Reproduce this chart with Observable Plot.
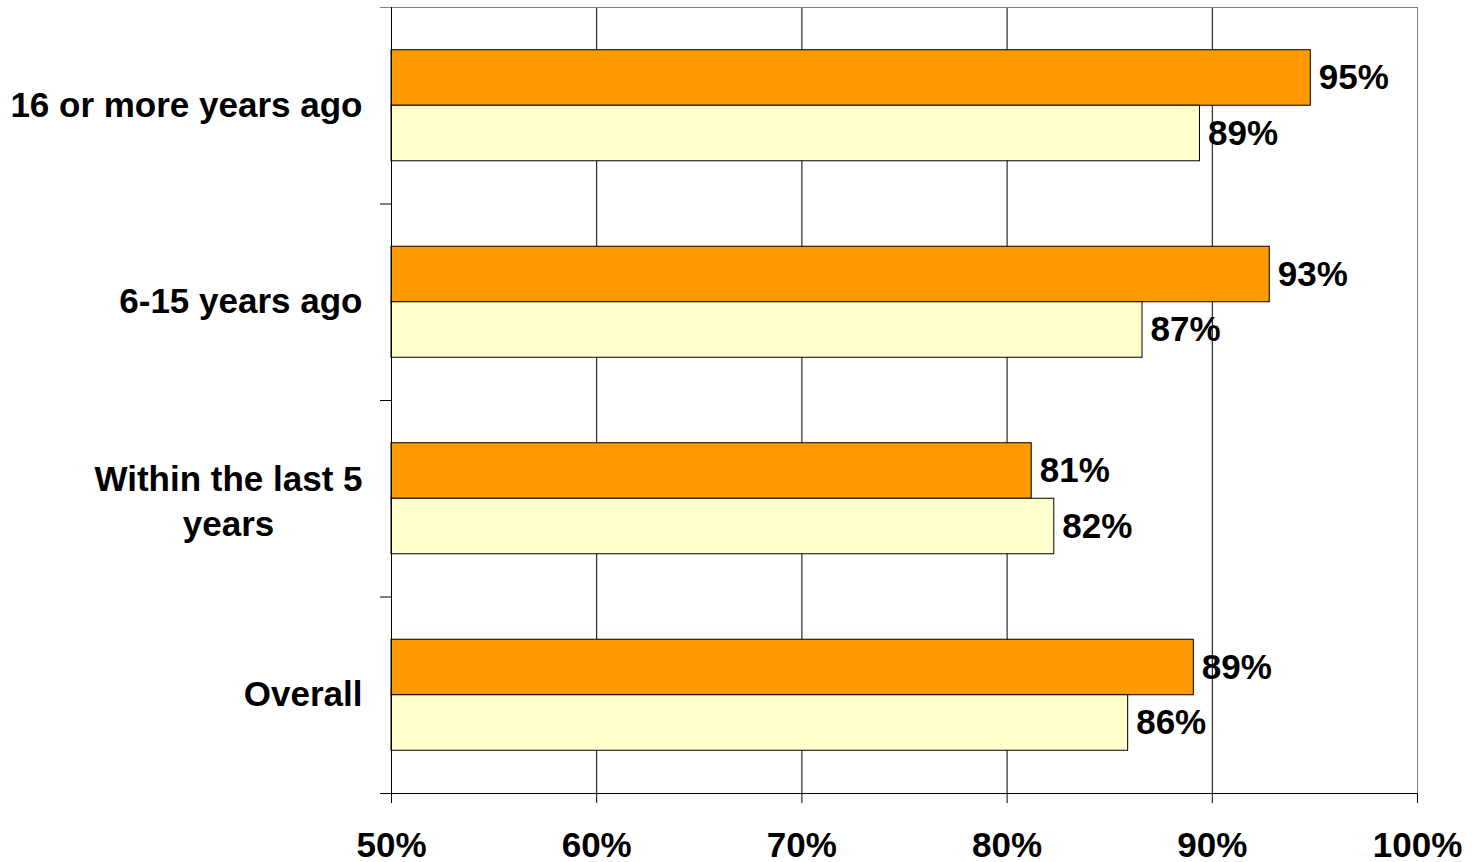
<!DOCTYPE html>
<html><head><meta charset="utf-8">
<script src="https://cdn.jsdelivr.net/npm/d3@7"></script>
<script src="https://cdn.jsdelivr.net/npm/@observablehq/plot@0.6"></script>
<style>body{margin:0;background:#fff}</style>
</head><body><div id="chart"></div>
<script>
const categories = ["16 or more years ago", "6-15 years ago", "Within the last 5\nyears", "Overall"];
const seriesNames = ["Series 1", "Series 2"];
const series1 = [94.8, 92.8, 81.2, 89.1];
const series2 = [89.4, 86.6, 82.3, 85.9];
const labels1 = ["95%", "93%", "81%", "89%"];
const labels2 = ["89%", "87%", "82%", "86%"];
const xTicks = [50, 60, 70, 80, 90, 100];
const xTickLabels = ["50%", "60%", "70%", "80%", "90%", "100%"];
const colors = ["#FF9900", "#FFFFCC"];

const FONT = "'Liberation Sans', Arial, Helvetica, sans-serif";
const FS = 35;
const groupStart = 0.2175, barH = 0.2825;

const table = [];
categories.forEach((c, i) => {
  [series1, series2].forEach((s, j) => {
    const y1 = i + groupStart + j * barH;
    table.push({cat: c, series: seriesNames[j], value: s[i], label: [labels1, labels2][j][i], y1, y2: y1 + barH, ym: y1 + barH / 2});
  });
});
const catRows = categories.map((c, i) => ({cat: c, y: i + 0.5, multi: c.includes("\n")}));

const ctx = document.createElement("canvas").getContext("2d");
ctx.font = `bold ${FS}px ${FONT}`;
const lineW = s => Math.max(...s.split("\n").map(l => ctx.measureText(l).width));
const multi = catRows.filter(d => d.multi);
const multiDx = multi.length ? -29 - lineW(multi[0].cat) / 2 : 0;

const chart = Plot.plot({
  width: 1474, height: 862,
  marginLeft: 391, marginRight: 57, marginTop: 7, marginBottom: 69,
  style: {fontFamily: FONT, fontSize: FS + "px", fontWeight: "bold", color: "#000", background: "#fff", overflow: "visible"},
  x: {domain: [50, 100], axis: null},
  y: {domain: [0, 4], reverse: true, axis: null},
  marks: [
    Plot.ruleX([60, 70, 80, 90], {y1: 0, y2: 4, stroke: "#000"}),
    Plot.ruleX([100], {y1: 0, y2: 4, stroke: "#808080"}),
    Plot.ruleY([0], {x1: 50, x2: 100, stroke: "#808080"}),
    Plot.rect(table, {x1: 50, x2: "value", y1: "y1", y2: "y2", fill: d => colors[seriesNames.indexOf(d.series)], stroke: "#000", strokeWidth: 1}),
    Plot.ruleX([50], {y1: 0, y2: 4, stroke: "#000"}),
    Plot.ruleY([4], {x1: 50, x2: 100, stroke: "#000"}),
    Plot.axisY({ticks: [1, 2, 3, 4], tickSize: 11, tickFormat: () => "", label: null, stroke: "#000"}),
    Plot.axisY({ticks: [0], tickSize: 11, tickFormat: () => "", label: null, stroke: "#808080"}),
    Plot.axisX({ticks: xTicks, tickSize: 10, tickPadding: 29, label: null, tickFormat: d => xTickLabels[xTicks.indexOf(d)], fontSize: FS, fontWeight: "bold", fill: "#000"}),
    Plot.text(catRows.filter(d => !d.multi), {x: 50, y: "y", text: "cat", dx: -29, textAnchor: "end", fontSize: FS, fontWeight: "bold", fill: "#000"}),
    Plot.text(multi, {x: 50, y: "y", text: "cat", dx: multiDx, textAnchor: "middle", lineAnchor: "middle", lineHeight: 1.31, fontSize: FS, fontWeight: "bold", fill: "#000"}),
    Plot.text(table, {x: "value", y: "ym", text: "label", dx: 8, textAnchor: "start", fontSize: FS, fontWeight: "bold", fill: "#000"})
  ]
});
document.getElementById("chart").appendChild(chart);
</script>
</body></html>
